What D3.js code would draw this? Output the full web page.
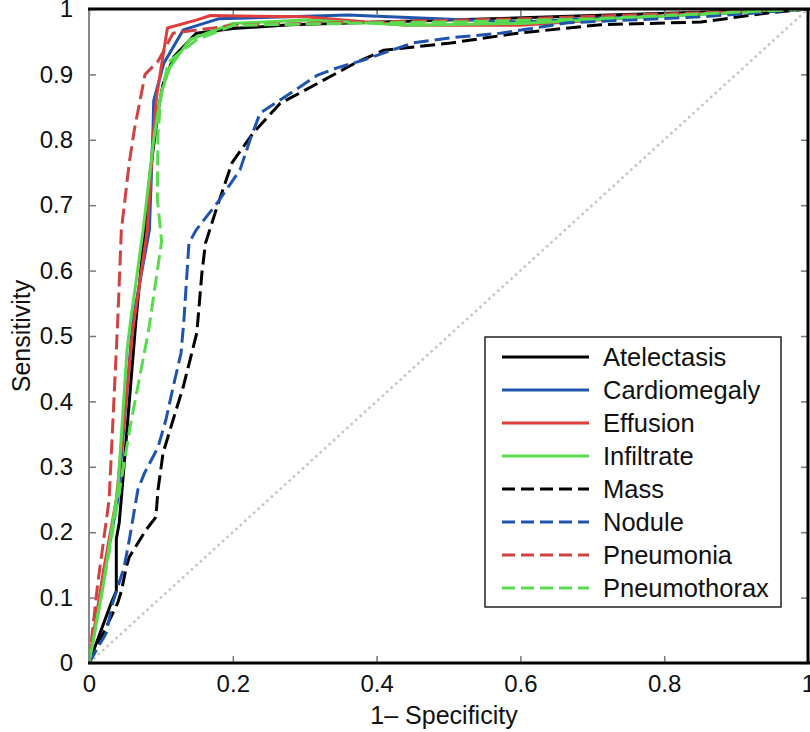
<!DOCTYPE html>
<html>
<head>
<meta charset="utf-8">
<script src="https://cdn.jsdelivr.net/npm/d3@7"></script>
<style>
  body { margin: 0; background: #fff; }
  svg { display: block; font-family: "Liberation Sans", Arial, Helvetica, sans-serif; }
</style>
</head>
<body>
<svg id="chart" width="810" height="732"></svg>
<script>
// series names (legend order)
const names = ["Atelectasis", "Cardiomegaly", "Effusion", "Infiltrate",
               "Mass", "Nodule", "Pneumonia", "Pneumothorax"];

// [1-specificity, sensitivity] points
const atelectasis = [[0,0],[0.031,0.092],[0.038,0.11],[0.038,0.19],[0.042,0.214],[0.046,0.265],
  [0.065,0.52],[0.085,0.75],[0.097,0.85],[0.103,0.885],[0.118,0.927],[0.149,0.963],
  [0.2,0.97],[0.28,0.976],[0.5,0.983],[0.7,0.99],[1,1]];
const cardiomegaly = [[0,0],[0.02,0.13],[0.04,0.25],[0.061,0.524],[0.084,0.662],[0.089,0.815],
  [0.09,0.86],[0.104,0.917],[0.131,0.968],[0.18,0.985],[0.36,0.991],[0.6,0.98],[0.8,0.99],[1,1]];
const effusion = [[0,0],[0.02,0.14],[0.038,0.25],[0.061,0.51],[0.081,0.66],[0.089,0.8],
  [0.094,0.866],[0.109,0.971],[0.149,0.983],[0.169,0.99],[0.3,0.988],[0.44,0.975],
  [0.6,0.975],[0.8,0.99],[1,1]];
const infiltrate = [[0,0],[0.02,0.12],[0.04,0.265],[0.053,0.48],[0.058,0.524],[0.075,0.66],
  [0.09,0.8],[0.1,0.87],[0.112,0.91],[0.14,0.953],[0.2,0.978],[0.3,0.983],[0.45,0.975],
  [0.6,0.978],[1,1]];
const mass = [[0,0],[0.04,0.092],[0.045,0.11],[0.052,0.147],[0.056,0.162],[0.079,0.203],
  [0.093,0.223],[0.096,0.265],[0.103,0.321],[0.117,0.372],[0.131,0.422],[0.145,0.483],
  [0.15,0.505],[0.157,0.596],[0.162,0.642],[0.178,0.697],[0.199,0.765],[0.228,0.81],
  [0.266,0.856],[0.294,0.872],[0.373,0.919],[0.41,0.937],[0.503,0.948],[0.596,0.963],
  [0.712,0.976],[0.851,0.98],[0.944,0.994],[1,1]];
const nodule = [[0,0],[0.024,0.046],[0.033,0.092],[0.049,0.147],[0.056,0.188],[0.068,0.265],
  [0.077,0.29],[0.096,0.33],[0.107,0.372],[0.117,0.422],[0.128,0.474],[0.132,0.524],
  [0.139,0.642],[0.149,0.662],[0.178,0.703],[0.21,0.754],[0.224,0.8],[0.238,0.841],
  [0.262,0.858],[0.318,0.899],[0.345,0.91],[0.382,0.922],[0.45,0.948],[0.503,0.956],
  [0.572,0.963],[0.666,0.979],[0.851,0.988],[1,1]];
const pneumonia = [[0,0],[0.012,0.12],[0.028,0.25],[0.04,0.524],[0.045,0.662],[0.056,0.765],
  [0.063,0.815],[0.078,0.9],[0.096,0.92],[0.117,0.963],[0.2,0.975],[0.3,0.978],
  [0.6,0.985],[1,1]];
const pneumothorax = [[0,0],[0.02,0.12],[0.042,0.26],[0.057,0.36],[0.083,0.509],[0.101,0.645],
  [0.095,0.71],[0.096,0.81],[0.1,0.865],[0.11,0.918],[0.127,0.934],[0.15,0.953],
  [0.2,0.975],[0.35,0.978],[0.5,0.98],[0.7,0.985],[1,1]];

const seriesData = [atelectasis, cardiomegaly, effusion, infiltrate,
                    mass, nodule, pneumonia, pneumothorax];

const xTicks = [0, 0.2, 0.4, 0.6, 0.8, 1];
const xTickLabels = ["0", "0.2", "0.4", "0.6", "0.8", "1"];
const yTicks = [0, 0.1, 0.2, 0.3, 0.4, 0.5, 0.6, 0.7, 0.8, 0.9, 1];
const yTickLabels = ["0", "0.1", "0.2", "0.3", "0.4", "0.5", "0.6", "0.7", "0.8", "0.9", "1"];

// styles
const colors = ["#000000", "#1f54ae", "#e03e3c", "#58dc4e",
                "#000000", "#1f54ae", "#cf4242", "#58dc4e"];
const dashed = [false, false, false, false, true, true, true, true];

const svg = d3.select("#chart");
const x = d3.scaleLinear().domain([0, 1]).range([89, 808]);
const y = d3.scaleLinear().domain([0, 1]).range([663, 9]);

svg.append("defs").append("clipPath").attr("id", "plot")
  .append("rect").attr("x", 89).attr("y", 9).attr("width", 719).attr("height", 654);

// chance diagonal
svg.append("line")
  .attr("x1", x(0)).attr("y1", y(0)).attr("x2", x(1)).attr("y2", y(1))
  .attr("stroke", "#c4c4c4").attr("stroke-width", 2.5)
  .attr("stroke-dasharray", "2.5,3.5");

const line = d3.line().x(d => x(d[0])).y(d => y(d[1]));

svg.append("g").attr("clip-path", "url(#plot)")
  .selectAll("path")
  .data(seriesData)
  .enter().append("path")
  .attr("d", line)
  .attr("fill", "none")
  .attr("stroke", (d, i) => colors[i])
  .attr("stroke-width", 3)
  .attr("stroke-linejoin", "round")
  .attr("stroke-dasharray", (d, i) => dashed[i] ? "15,6" : null);

// axes (ticks point inward, like the original)
const axisStyle = g => {
  g.select(".domain").remove();
  g.selectAll(".tick line").attr("stroke", "#777").attr("stroke-width", 1.5);
  g.selectAll(".tick text").attr("font-size", 24).attr("fill", "#111");
};

svg.append("g").attr("transform", "translate(89,0)")
  .call(d3.axisLeft(y).tickValues(yTicks).tickSize(-7).tickPadding(16)
    .tickFormat((d, i) => yTickLabels[i]))
  .call(axisStyle);

svg.append("g").attr("transform", "translate(808,0)")
  .call(d3.axisRight(y).tickValues(yTicks).tickSize(-7).tickFormat(""))
  .call(axisStyle);

svg.append("g").attr("transform", "translate(0,663)")
  .call(d3.axisBottom(x).tickValues(xTicks).tickSize(-7).tickPadding(12)
    .tickFormat((d, i) => xTickLabels[i]))
  .call(axisStyle);

svg.append("g").attr("transform", "translate(0,9)")
  .call(d3.axisTop(x).tickValues(xTicks).tickSize(-7).tickFormat(""))
  .call(axisStyle);

// frame
svg.append("line").attr("x1", 89).attr("x2", 89).attr("y1", 9).attr("y2", 663)
  .attr("stroke", "#888").attr("stroke-width", 2);
svg.append("line").attr("x1", 88).attr("x2", 810).attr("y1", 9).attr("y2", 9)
  .attr("stroke", "#000").attr("stroke-width", 3);
svg.append("line").attr("x1", 88).attr("x2", 810).attr("y1", 663).attr("y2", 663)
  .attr("stroke", "#000").attr("stroke-width", 3);
svg.append("line").attr("x1", 808).attr("x2", 808).attr("y1", 9).attr("y2", 663)
  .attr("stroke", "#000").attr("stroke-width", 3);

// axis titles
svg.append("text")
  .attr("x", 444).attr("y", 724)
  .attr("text-anchor", "middle").attr("font-size", 25).attr("fill", "#111")
  .text("1\u2013 Specificity");

svg.append("text")
  .attr("transform", "translate(30,336) rotate(-90)")
  .attr("text-anchor", "middle").attr("font-size", 25).attr("fill", "#111")
  .text("Sensitivity");

// legend
const legend = svg.append("g");
legend.append("rect")
  .attr("x", 485).attr("y", 337).attr("width", 296).attr("height", 270)
  .attr("fill", "#fff").attr("stroke", "#222").attr("stroke-width", 1.5);

const rows = legend.selectAll("g.row")
  .data(names)
  .enter().append("g")
  .attr("class", "row")
  .attr("transform", (d, i) => "translate(0," + (357 + i * 33) + ")");

rows.append("line")
  .attr("x1", 502).attr("x2", 589)
  .attr("stroke", (d, i) => colors[i])
  .attr("stroke-width", 3)
  .attr("stroke-dasharray", (d, i) => dashed[i] ? "13,6" : null);

rows.append("text")
  .attr("x", 603).attr("y", 9)
  .attr("font-size", 25.5).attr("fill", "#111")
  .text(d => d);
</script>
</body>
</html>
